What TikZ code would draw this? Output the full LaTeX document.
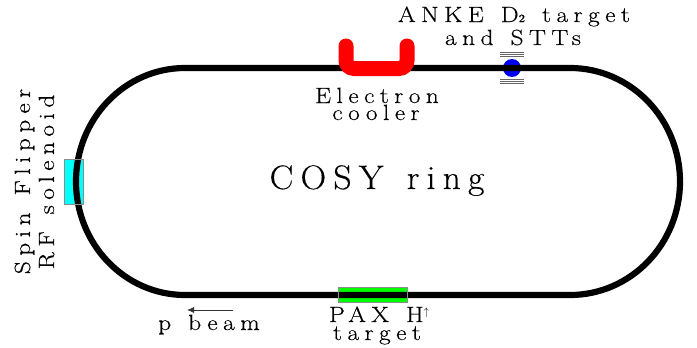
\documentclass[tikz,border=0pt]{standalone}
\usepackage{fontspec}
\newfontfamily\lblfont[LetterSpace=25,FakeBold=0.35,FakeStretch=1.15,WordSpace=1.3]{Latin Modern Roman}
\newfontfamily\bigfont[LetterSpace=21,FakeBold=0.3,FakeStretch=1.05,WordSpace=1.3]{Latin Modern Roman}
\usetikzlibrary{arrows.meta}
\definecolor{cyanpure}{RGB}{0,255,255}
\tikzset{
 lbl/.style={inner sep=0pt,anchor=base,font=\lblfont\fontsize{22}{22}\selectfont},
 biglbl/.style={inner sep=0pt,anchor=base,font=\bigfont\fontsize{34}{34}\selectfont},
 ring/.style={line width=6.2pt,black},
 stripe/.style={line width=0.9pt,black!60},
 box/.style={draw=black!45,line width=1pt}
}
\begin{document}
\begin{tikzpicture}[x=1pt,y=-1pt]
\useasboundingbox (0,0) rectangle (697,348);
% under the ring
\fill[cyanpure] (64,159) rectangle (83,204);
\fill[green] (338,287) rectangle (407,302);
\fill[blue] (512,68) circle (9);
% ring
\draw[ring] (185,68) -- (570,68) arc[start angle=-90,end angle=90,x radius=110,y radius=113.5]
 -- (185,295) arc[start angle=90,end angle=270,x radius=109,y radius=113.5] -- cycle;
% outlines
\draw[box] (64,159) rectangle (83,204);
\draw[box] (338,287) rectangle (407,302);
% cooler
\draw[red,line width=15pt,line cap=round,rounded corners=8pt] (346,46) -- (346,68.5) -- (407,68.5) -- (407,46);
% STT stripes
\foreach \yy in {52.5,54.5,56.5,79.5,81.5,83.5}
  \draw[stripe] (500,\yy) -- (524,\yy);
% beam arrow
\coordinate (beamstart) at (233,310);
\coordinate (beamend) at (187,310);
\draw[-{Latex[length=7pt,width=6pt]},black!80,line width=0.8pt] (beamstart) -- (beamend);
% labels
\node[lbl] (anke) at (514,22) {ANKE D{\fontsize{11}{11}\selectfont 2} target};
\node[lbl] (stts) at (513,45) {and STTs};
\node[lbl] (elec) at (377,103) {Electron};
\node[lbl] (cool) at (376,120) {cooler};
\node[biglbl] (cosy) at (377,189) {COSY ring};
\node[lbl] (pbeam) at (209,330) {p beam};
\node[lbl] (pax) at (379,322) {PAX H{\raisebox{7pt}{\fontsize{11}{11}\selectfont$\uparrow$}}};
\node[lbl] (targ) at (377,340) {target};
\node[lbl,rotate=90] (spin) at (30,181.5) {Spin Flipper};
\node[lbl,rotate=90] (rfsol) at (54,182) {RF solenoid};
\end{tikzpicture}
\end{document}
